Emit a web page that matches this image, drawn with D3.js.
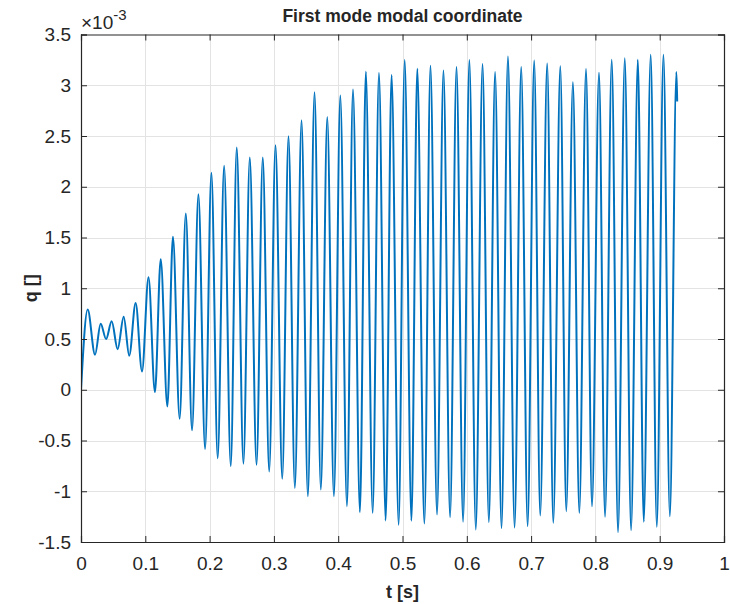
<!DOCTYPE html>
<html>
<head>
<meta charset="utf-8">
<script src="https://cdn.jsdelivr.net/npm/d3@7/dist/d3.min.js"></script>
<style>
  body { margin: 0; background: #fff; }
  svg { display: block; }
  text { font-family: Arial, "Liberation Sans", Helvetica, sans-serif; fill: #262626; }
</style>
</head>
<body>
<svg id="chart" width="730" height="604"></svg>
<script>
// Modal coordinate q (in units of 1e-3) against time t [s]:
// start, turning points of the oscillation, and final sample.
const startT = 0, startQ = 0;
const endT = 0.9272, endQ = 2.84;

const peakTimes = [0.0104, 0.0306, 0.0477, 0.0664, 0.085,
  0.105, 0.124, 0.143, 0.163, 0.1826, 0.2028, 0.2226, 0.2422, 0.2625, 0.2827,
  0.3025, 0.3227, 0.343, 0.3632, 0.383, 0.4033, 0.423, 0.443, 0.4634, 0.483,
  0.5034, 0.523, 0.5435, 0.5637, 0.584, 0.604, 0.6245, 0.644, 0.664, 0.6846,
  0.7048, 0.725, 0.7454, 0.765, 0.7854, 0.8056, 0.8254, 0.8457, 0.866, 0.886,
  0.9058, 0.926];
const peakValues = [0.79, 0.65, 0.674, 0.72, 0.855,
  1.108, 1.285, 1.507, 1.737, 1.927, 2.137, 2.206, 2.386, 2.288, 2.288,
  2.409, 2.497, 2.655, 2.93, 2.687, 2.898, 2.957, 3.134, 3.12, 3.10,
  3.25, 3.163, 3.193, 3.146, 3.18, 3.25, 3.21, 3.13, 3.284, 3.18,
  3.245, 3.215, 3.186, 3.03, 3.16, 3.124, 3.252, 3.267, 3.252, 3.30,
  3.30, 3.13];

const troughTimes = [0.0218, 0.039, 0.057, 0.075, 0.0949,
  0.115, 0.1343, 0.1534, 0.1727, 0.193, 0.2126, 0.2329, 0.2526, 0.273, 0.2927,
  0.313, 0.3326, 0.3528, 0.373, 0.3933, 0.4136, 0.4338, 0.4536, 0.4738, 0.494,
  0.5139, 0.534, 0.5537, 0.574, 0.5942, 0.614, 0.6343, 0.654, 0.6743, 0.6946,
  0.7142, 0.7345, 0.7547, 0.775, 0.7947, 0.815, 0.8352, 0.8555, 0.8752, 0.8955,
  0.9158];
const troughValues = [0.345, 0.50, 0.40, 0.335, 0.18,
  -0.023, -0.164, -0.285, -0.40, -0.583, -0.675, -0.754, -0.728, -0.74, -0.806,
  -0.878, -0.967, -1.049, -0.983, -1.049, -1.147, -1.206, -1.213, -1.288, -1.33,
  -1.291, -1.318, -1.229, -1.256, -1.30, -1.377, -1.305, -1.364, -1.357, -1.344,
  -1.239, -1.311, -1.196, -1.213, -1.147, -1.252, -1.403, -1.383, -1.301, -1.35,
  -1.246];

const xTicks = [0, 0.1, 0.2, 0.3, 0.4, 0.5, 0.6, 0.7, 0.8, 0.9, 1];
const yTicks = [-1.5, -1, -0.5, 0, 0.5, 1, 1.5, 2, 2.5, 3, 3.5];

const titleText = "First mode modal coordinate";
const xLabelText = "t [s]";
const yLabelText = "q []";

// ---- build the series ----
const series = [[startT, startQ]]
  .concat(peakTimes.map((t, i) => [t, peakValues[i]]))
  .concat(troughTimes.map((t, i) => [t, troughValues[i]]))
  .concat([[endT, endQ]])
  .sort((a, b) => a[0] - b[0]);

// ---- layout ----
const svg = d3.select("#chart");
const L = 81, R = 724, T = 34.5, B = 542;
const axisColor = "#262626";
const gridColor = "#e3e3e3";
const lineColor = "#0072BD";

const x = d3.scaleLinear().domain([0, 1]).range([L, R]);
const y = d3.scaleLinear().domain([-1.5, 3.5]).range([B, T]);

// grid
const grid = svg.append("g");
grid.selectAll(".gx").data(xTicks.slice(1, -1)).join("line")
  .attr("x1", d => Math.round(x(d)) + 0.5).attr("x2", d => Math.round(x(d)) + 0.5)
  .attr("y1", T).attr("y2", B)
  .attr("stroke", gridColor).attr("stroke-width", 1);
grid.selectAll(".gy").data(yTicks.slice(1, -1)).join("line")
  .attr("y1", d => Math.round(y(d)) + 0.5).attr("y2", d => Math.round(y(d)) + 0.5)
  .attr("x1", L).attr("x2", R)
  .attr("stroke", gridColor).attr("stroke-width", 1);

// data line
svg.append("clipPath").attr("id", "plotArea")
  .append("rect").attr("x", L).attr("y", T).attr("width", R - L).attr("height", B - T);

const line = d3.line()
  .x(d => x(d[0]))
  .y(d => y(d[1]))
  .curve(d3.curveMonotoneX);

svg.append("path")
  .datum(series)
  .attr("clip-path", "url(#plotArea)")
  .attr("d", line)
  .attr("fill", "none")
  .attr("stroke", lineColor)
  .attr("stroke-width", 2)
  .attr("stroke-linejoin", "round");

// axes (ticks pointing inward, on all four sides)
const tickLen = 6;
const fmt = d => String(d);

const xAxisB = d3.axisBottom(x).tickValues(xTicks).tickSize(-tickLen).tickPadding(15).tickFormat(fmt);
const xAxisT = d3.axisTop(x).tickValues(xTicks).tickSize(-tickLen).tickFormat("");
const yAxisL = d3.axisLeft(y).tickValues(yTicks).tickSize(-tickLen).tickPadding(10).tickFormat(fmt);
const yAxisR = d3.axisRight(y).tickValues(yTicks).tickSize(-tickLen).tickFormat("");

function styleAxis(g) {
  g.select(".domain").attr("stroke", axisColor).attr("stroke-width", 1.2);
  g.selectAll(".tick line").attr("stroke", axisColor).attr("stroke-width", 1);
  g.selectAll(".tick text").attr("fill", axisColor).style("font-size", "19px")
    .style("font-family", "Arial, 'Liberation Sans', Helvetica, sans-serif");
}

svg.append("g").attr("transform", `translate(0,${B})`).call(xAxisB).call(styleAxis);
svg.append("g").attr("transform", `translate(0,${T})`).call(xAxisT).call(styleAxis);
svg.append("g").attr("transform", `translate(${L},0)`).call(yAxisL).call(styleAxis);
svg.append("g").attr("transform", `translate(${R},0)`).call(yAxisR).call(styleAxis);

// exponent label
const expo = svg.append("text").attr("x", L).attr("y", 29).style("font-size", "19px");
expo.append("tspan").text("\u00d710");
expo.append("tspan").attr("dy", -9).style("font-size", "15px").text("-3");

// title and axis labels
svg.append("text").attr("x", (L + R) / 2).attr("y", 22)
  .attr("text-anchor", "middle").style("font-size", "17.5px").style("font-weight", "bold")
  .text(titleText);

svg.append("text").attr("x", (L + R) / 2).attr("y", 598)
  .attr("text-anchor", "middle").style("font-size", "18px").style("font-weight", "bold")
  .text(xLabelText);

svg.append("text")
  .attr("transform", `translate(37,${(T + B) / 2}) rotate(-90)`)
  .attr("text-anchor", "middle").style("font-size", "18px").style("font-weight", "bold")
  .text(yLabelText);
</script>
</body>
</html>
